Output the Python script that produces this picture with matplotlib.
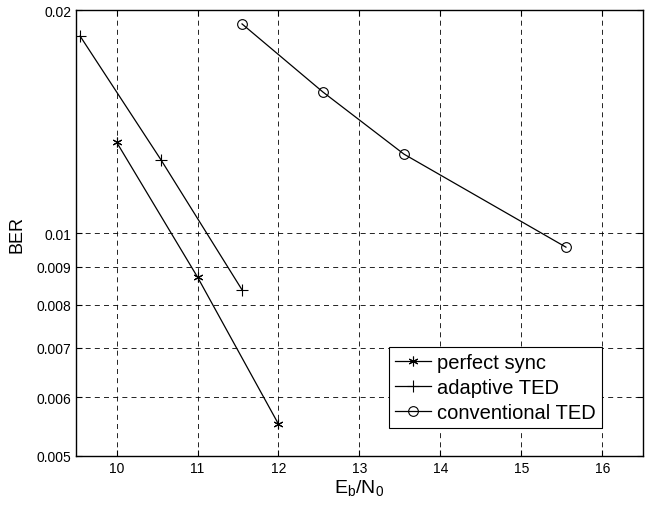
import numpy as np
import matplotlib
matplotlib.use('Agg')
import matplotlib.pyplot as plt
from matplotlib.ticker import FixedLocator, NullLocator, FixedFormatter

plt.rcParams['font.family'] = ['Liberation Sans', 'DejaVu Sans']

# data
x_perfect = [10, 11, 12]
ber_perfect = [0.01327, 0.00872, 0.00552]
x_adaptive = [9.55, 10.55, 11.55]
ber_adaptive = [0.01845, 0.01255, 0.00838]
x_conv = [11.55, 12.55, 13.55, 15.55]
ber_conv = [0.01916, 0.0155, 0.01278, 0.00957]

xticks = [10, 11, 12, 13, 14, 15, 16]
yticks = [0.005, 0.006, 0.007, 0.008, 0.009, 0.01, 0.02]
ytick_labels = ['0.005', '0.006', '0.007', '0.008', '0.009', '0.01', '0.02']

fig = plt.figure(figsize=(6.5, 5.06), dpi=100)
ax = fig.add_axes([0.117, 0.097, 0.872, 0.881])

ax.plot(x_perfect, ber_perfect, color='k', lw=0.9, marker=(6, 2, 0), ms=7,
        mew=0.8, label='perfect sync')
ax.plot(x_adaptive, ber_adaptive, color='k', lw=0.9, marker='+', ms=8,
        mew=0.8, label='adaptive TED')
ax.plot(x_conv, ber_conv, color='k', lw=0.9, marker='o', ms=7, mfc='none',
        mew=0.8, label='conventional TED')

ax.set_yscale('log')
ax.set_xlim(9.5, 16.5)
ax.set_ylim(0.005, 0.02)
ax.set_xticks(xticks)
ax.yaxis.set_major_locator(FixedLocator(yticks))
ax.yaxis.set_major_formatter(FixedFormatter(ytick_labels))
ax.yaxis.set_minor_locator(NullLocator())
ax.tick_params(direction='in', length=4, labelsize=10, top=True, right=True)
ax.grid(True, color='k', ls=(0, (6, 5)), lw=0.6)
for s in ax.spines.values():
    s.set_linewidth(1.0)

ax.set_xlabel('E$_\\mathregular{b}$/N$_\\mathregular{0}$', fontsize=14, labelpad=2)
ax.set_ylabel('BER', fontsize=13, labelpad=8)

leg = ax.legend(loc='lower right', bbox_to_anchor=(0.928, 0.063), fontsize=14.5,
                frameon=True, fancybox=False, edgecolor='k', framealpha=1,
                handlelength=1.8, handletextpad=0.3, borderpad=0.3,
                labelspacing=0.3, borderaxespad=0)
leg.get_frame().set_linewidth(0.8)

fig.savefig('out.png', dpi=100)
